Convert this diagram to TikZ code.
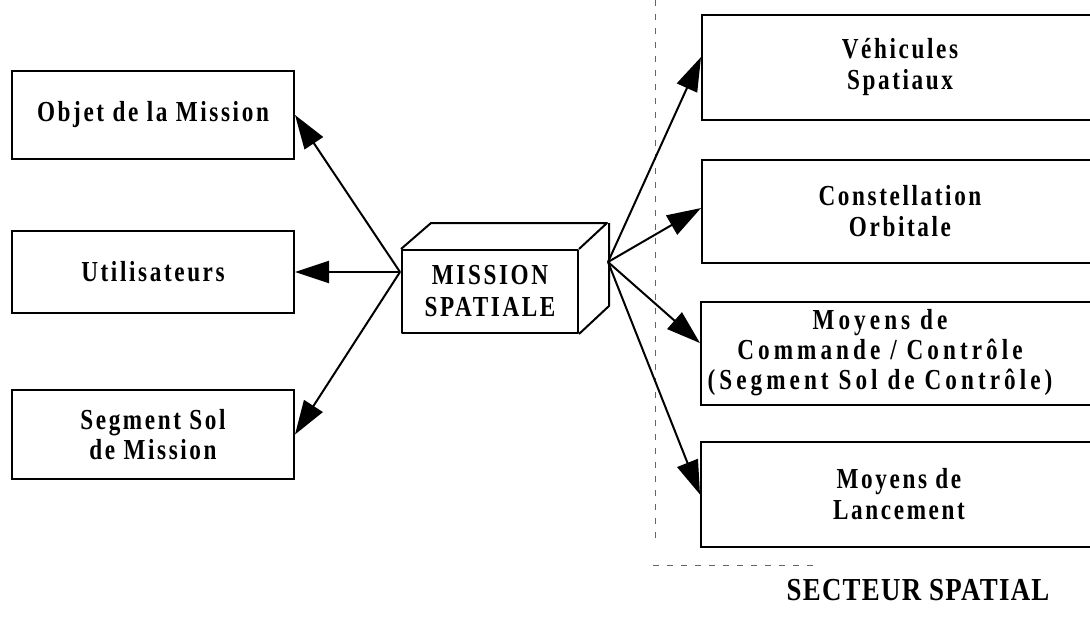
\documentclass[tikz,border=0pt]{standalone}
\usepackage{fontspec}
\setmainfont{Liberation Serif}
\newfontfamily\leftfont[FakeStretch=0.8,LetterSpace=9]{Liberation Serif}
\newfontfamily\rightfont[FakeStretch=0.8,LetterSpace=9]{Liberation Serif}
\newfontfamily\widefont[FakeStretch=0.8,LetterSpace=14]{Liberation Serif}
\newfontfamily\cubefont[FakeStretch=0.8,LetterSpace=9]{Liberation Serif}
\newfontfamily\titlefont[FakeStretch=0.84,LetterSpace=4]{Liberation Serif}
\usetikzlibrary{arrows.meta}

\begin{document}
\begin{tikzpicture}[x=1pt,y=-1pt,
  lbox/.style={draw, line width=2pt, minimum width=282pt, inner sep=0pt,
    align=center, font=\leftfont\bfseries\fontsize{29}{30}\selectfont},
  rbox/.style={draw, line width=2pt, minimum width=396pt, inner sep=0pt,
    align=center, font=\rightfont\bfseries\fontsize{29}{31}\selectfont},
  cubeline/.style={line width=2pt, line join=round},
  conn/.style={line width=2pt, -{Triangle[length=34pt,width=22pt]}},
  sector/.style={line width=0.7pt, dash pattern=on 6pt off 8pt, black!60}]
\useasboundingbox (0,0) rectangle (1090,619);
\clip (0,0) rectangle (1090,619);

% boundary of the space sector
\draw[sector] (655,0) -- (655,545);
\draw[sector] (653,565) -- (817,565);

% left-hand boxes
\node[lbox, minimum height=88pt] (objet) at (153,115) {Objet de la Mission};
\node[lbox, minimum height=82pt] (util) at (153,272) {Utilisateurs};
\node[lbox, minimum height=89pt] (sol) at (153,434.5) {Segment Sol\\de Mission};

% right-hand boxes (space sector)
\node[rbox, minimum height=105pt] (veh) at (900,67.5) {Véhicules\\Spatiaux};
\node[rbox, minimum height=103pt] (const) at (900,211.5) {Constellation\\Orbitale};
\node[rbox, minimum height=103pt] (cmd) at (899,353.5) {};
\node[align=center, inner sep=0pt, font=\widefont\bfseries\fontsize{29}{30}\selectfont]
  (cmdtext) at (880,353) {Moyens de\\Commande / Contrôle\\(Segment Sol de Contrôle)};
\node[rbox, minimum height=105pt] (lanc) at (899,494.5) {Moyens de\\Lancement};

% central block drawn as a box in perspective
\node[draw, cubeline, minimum width=176pt, minimum height=83pt, inner sep=0pt,
  align=center, font=\cubefont\bfseries\fontsize{29}{32}\selectfont]
  (ms) at (490,291.5) {MISSION\\SPATIALE};
\draw[cubeline] (ms.north west) -- ++(30,-26) -- ++(176,0) -- (ms.north east);
\draw[cubeline] (ms.north east) ++(30,-26) -- ++(0,83) -- (ms.south east);
\coordinate (hl) at (400,272);
\coordinate (hr) at (608,262);

% connectors
\draw[conn] (hl) -- (objet.east);
\draw[conn] (hl) -- (util.east);
\draw[conn] (hl) -- (sol.east);
\draw[conn] (hr) -- (veh.177);
\draw[conn] (hr) -- (const.179);
\draw[conn] (hr) -- (cmd.177);
\draw[conn] (hr) -- (lanc.west);

% sector caption
\node[font=\titlefont\bfseries\fontsize{32}{36}\selectfont] (sect) at (918,590) {SECTEUR SPATIAL};
\end{tikzpicture}
\end{document}
